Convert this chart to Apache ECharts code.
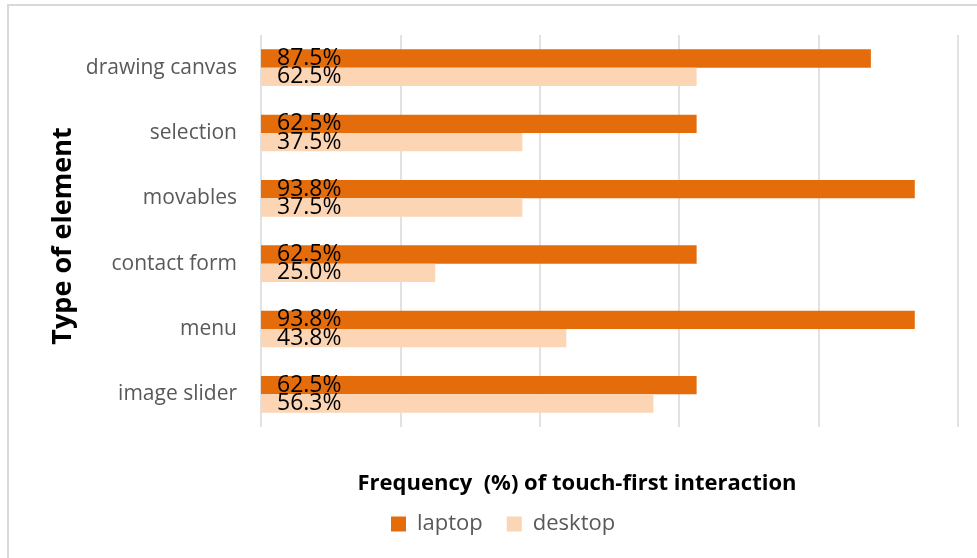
<!DOCTYPE html>
<html>
<head>
<meta charset="utf-8">
<script src="https://cdn.jsdelivr.net/npm/echarts@6/dist/echarts.min.js"></script>
<style>
  html, body { margin: 0; padding: 0; background: #ffffff; }
  #chart { width: 977px; height: 558px; }
</style>
</head>
<body>
<div id="chart"></div>
<script>
// Element types, listed top to bottom
const categories = ['drawing canvas', 'selection', 'movables', 'contact form', 'menu', 'image slider'];
// Share of touch-first interaction per device, in percent
const laptopValues = [87.5, 62.5, 93.8, 62.5, 93.8, 62.5];
const desktopValues = [62.5, 37.5, 37.5, 25.0, 43.8, 56.3];
const seriesNames = ['laptop', 'desktop'];
const xTitle = 'Frequency  (%) of touch-first interaction';
const yTitle = 'Type of element';

const LAPTOP = '#E46C0A';
const DESKTOP = '#FCD5B5';
const FONT = '"Open Sans", "Liberation Sans", sans-serif';

const valueLabel = {
  show: true,
  position: 'insideLeft',
  distance: 16,
  color: '#000000',
  fontFamily: FONT,
  fontSize: 23,
  formatter: p => p.value.toFixed(1) + '%'
};

const chart = echarts.init(document.getElementById('chart'), null, { renderer: 'canvas' });

chart.setOption({
  animation: false,
  backgroundColor: '#ffffff',
  grid: { left: 261, right: 19, top: 35, bottom: 131, containLabel: false },
  xAxis: {
    type: 'value',
    min: 0,
    max: 100,
    interval: 20,
    axisLine: { show: false },
    axisTick: { show: false },
    axisLabel: { show: false },
    splitLine: { show: true, lineStyle: { color: '#d9d9d9', width: 1.5 } }
  },
  yAxis: {
    type: 'category',
    data: categories,
    inverse: true,
    axisLine: { show: false },
    axisTick: { show: false },
    axisLabel: {
      margin: 24,
      color: '#595959',
      fontFamily: FONT,
      fontSize: 21,
      padding: [4, 0, 0, 0]
    }
  },
  legend: {
    data: seriesNames,
    left: 386,
    top: 508,
    itemWidth: 15,
    itemHeight: 15,
    itemGap: 24,
    icon: 'rect',
    textStyle: { color: '#595959', fontFamily: FONT, fontSize: 22, padding: [0, 0, 0, 6] }
  },
  series: [
    {
      name: seriesNames[0],
      type: 'bar',
      data: laptopValues,
      itemStyle: { color: LAPTOP },
      barCategoryGap: '44%',
      barGap: '0%',
      label: valueLabel
    },
    {
      name: seriesNames[1],
      type: 'bar',
      data: desktopValues,
      itemStyle: { color: DESKTOP },
      barCategoryGap: '44%',
      barGap: '0%',
      label: valueLabel
    }
  ],
  graphic: [
    {
      type: 'rect',
      shape: { x: 8, y: 5, width: 1000, height: 600 },
      style: { fill: 'none', stroke: '#d9d9d9', lineWidth: 2 },
      silent: true
    },
    {
      type: 'text',
      x: 577,
      y: 484,
      style: {
        text: xTitle,
        fill: '#000000',
        font: 'bold 22px ' + FONT,
        textAlign: 'center',
        textVerticalAlign: 'middle'
      }
    },
    {
      type: 'text',
      x: 63,
      y: 236,
      rotation: Math.PI / 2,
      style: {
        text: yTitle,
        fill: '#000000',
        font: 'bold 27px ' + FONT,
        textAlign: 'center',
        textVerticalAlign: 'middle'
      }
    }
  ]
});
</script>
</body>
</html>
